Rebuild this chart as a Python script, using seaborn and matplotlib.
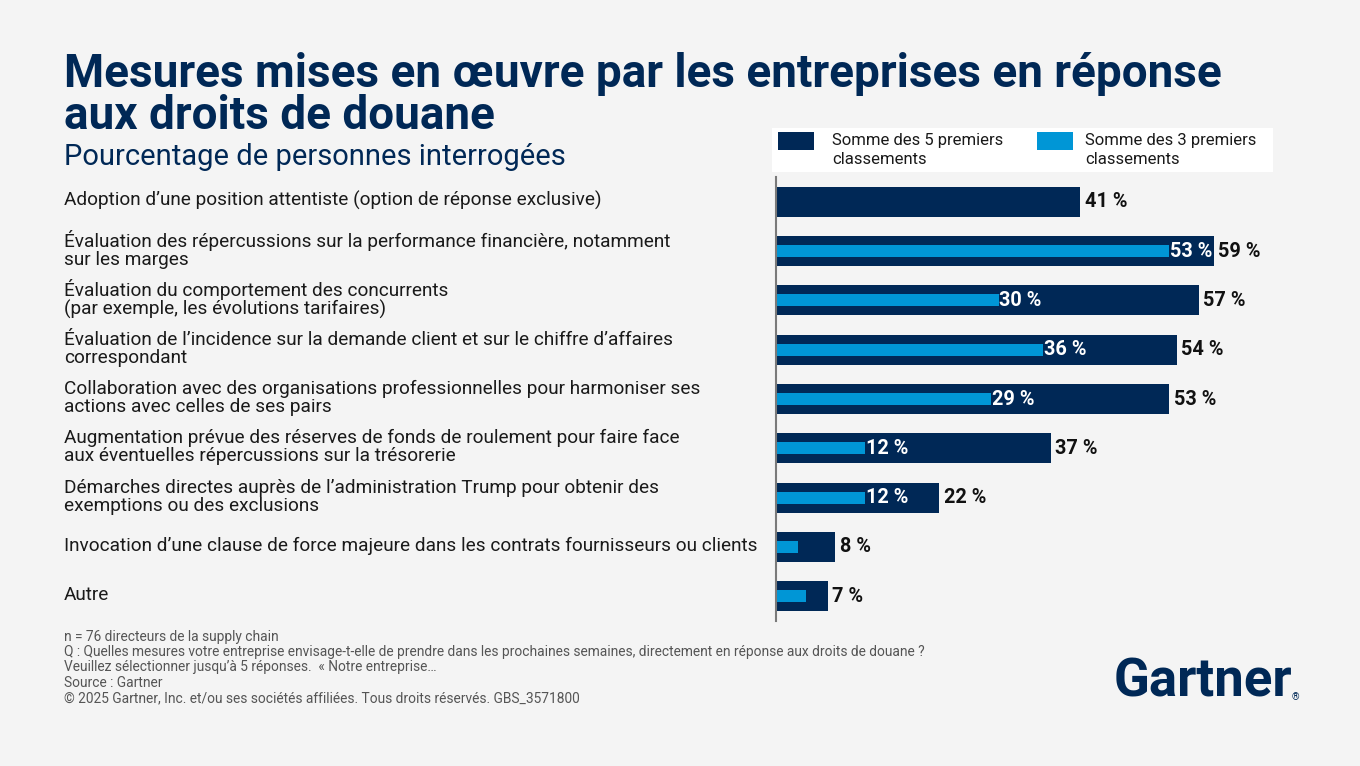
import matplotlib
matplotlib.use('Agg')
import matplotlib.pyplot as plt
import seaborn as sns
import pandas as pd
import numpy as np
from matplotlib.patches import Rectangle

categories = [
    "Adoption d\u2019une position attentiste (option de réponse exclusive)",
    "Évaluation des répercussions sur la performance financière, notamment\nsur les marges",
    "Évaluation du comportement des concurrents\n(par exemple, les évolutions tarifaires)",
    "Évaluation de l\u2019incidence sur la demande client et sur le chiffre d\u2019affaires\ncorrespondant",
    "Collaboration avec des organisations professionnelles pour harmoniser ses\nactions avec celles de ses pairs",
    "Augmentation prévue des réserves de fonds de roulement pour faire face\naux éventuelles répercussions sur la trésorerie",
    "Démarches directes auprès de l\u2019administration Trump pour obtenir des\nexemptions ou des exclusions",
    "Invocation d\u2019une clause de force majeure dans les contrats fournisseurs ou clients",
    "Autre",
]
top5 = [41, 59, 57, 54, 53, 37, 22, 8, 7]
top3 = [np.nan, 53, 30, 36, 29, 12, 12, 3, 4]
show_top3_label = [False, True, True, True, True, True, True, False, False]

NAVY = '#002856'
BLUE = '#0096D6'
BG = '#F4F4F4'

sns.set_theme(style='white')
plt.rcParams['font.family'] = ['Roboto', 'DejaVu Sans']

df = pd.DataFrame({'cat': categories, 'top5': top5, 'top3': top3})

fig = plt.figure(figsize=(13.6, 7.66), dpi=100, facecolor=BG)
W, H = 1360, 766
ax = fig.add_axes([776 / W, 1 - 621 / H, 1 - 776 / W, 444 / H])
ax.set_facecolor(BG)

sns.barplot(data=df, y='cat', x='top5', color=NAVY, width=0.61, orient='h',
            ax=ax, saturation=1, linewidth=0)
sns.barplot(data=df, y='cat', x='top3', color=BLUE, width=0.24, orient='h',
            ax=ax, saturation=1, linewidth=0)

ax.set_xlim(0, 78.7)
ax.set_ylim(8.5, -0.5)
for s in ['top', 'right', 'bottom']:
    ax.spines[s].set_visible(False)
ax.spines['left'].set_color('#7a7a7a')
ax.spines['left'].set_linewidth(1.5)
ax.set_xticks([])
ax.set_yticks([])
ax.set_xlabel('')
ax.set_ylabel('')

for i, cat in enumerate(categories):
    ax.text(top5[i] + 0.6, i, f"{top5[i]} %", va='center', ha='left',
            fontsize=14.3, fontweight='bold', color='#111111')
    if show_top3_label[i]:
        ax.text(top3[i] + 0.1, i, f"{top3[i]:.0f} %", va='center', ha='left',
                fontsize=14.3, fontweight='bold', color='white')
    fig.text(64 / W, 1 - (177 + 49.33 * (i + 0.5) - 1) / H, cat, ha='left', va='center',
             fontsize=13.7, color='#1a1a1a', linespacing=1.0)

# title as two separate lines
fig.text(64 / W, 1 - 74 / H, "Mesures mises en œuvre par les entreprises en réponse",
         ha='left', va='center', fontsize=33, fontweight='bold', color=NAVY)
fig.text(64 / W, 1 - 116 / H, "aux droits de douane",
         ha='left', va='center', fontsize=33, fontweight='bold', color=NAVY)
fig.text(64 / W, 1 - 157 / H, "Pourcentage de personnes interrogées", ha='left', va='center',
         fontsize=21, color=NAVY)

# legend box
fig.patches.append(Rectangle((772 / W, 1 - 172 / H), 501 / W, 44 / H, transform=fig.transFigure,
                             facecolor='white', edgecolor='none'))
fig.patches.append(Rectangle((778 / W, 1 - 150 / H), 36 / W, 18 / H, transform=fig.transFigure,
                             facecolor=NAVY, edgecolor='none'))
fig.patches.append(Rectangle((1037 / W, 1 - 150 / H), 36 / W, 18 / H, transform=fig.transFigure,
                             facecolor=BLUE, edgecolor='none'))
fig.text(832 / W, 1 - 150 / H, "Somme des 5 premiers\nclassements", ha='left', va='center',
         fontsize=12, color='#1a1a1a', linespacing=1.25)
fig.text(1085 / W, 1 - 150 / H, "Somme des 3 premiers\nclassements", ha='left', va='center',
         fontsize=12, color='#1a1a1a', linespacing=1.25)

footer = ["n = 76 directeurs de la supply chain",
          "Q : Quelles mesures votre entreprise envisage-t-elle de prendre dans les prochaines semaines, directement en réponse aux droits de douane ?",
          "Veuillez sélectionner jusqu\u2019à 5 réponses.  « Notre entreprise…",
          "Source : Gartner",
          "© 2025 Gartner, Inc. et/ou ses sociétés affiliées. Tous droits réservés. GBS_3571800"]
for k, line in enumerate(footer):
    fig.text(64 / W, 1 - (637 + 15.2 * k) / H, line, ha='left', va='center', fontsize=9.9, color='#555555')

fig.text(1292 / W, 1 - 682 / H, "Gartner", ha='right', va='center', fontsize=38, fontweight='bold', color=NAVY)
fig.text(1292 / W, 1 - 697 / H, "®", ha='left', va='center', fontsize=7, color=NAVY)

fig.savefig('out.png', dpi=100, facecolor=BG)
